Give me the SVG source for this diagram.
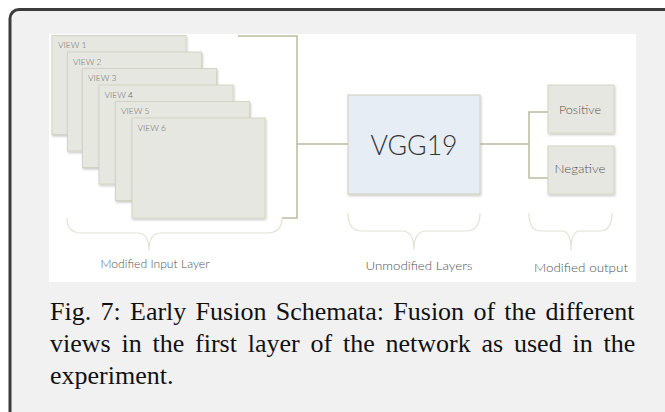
<svg xmlns="http://www.w3.org/2000/svg" width="665" height="412" viewBox="0 0 665 412">
<defs>
<filter id="sh" x="-10%" y="-10%" width="130%" height="130%">
<feDropShadow dx="0.8" dy="1.5" stdDeviation="0.9" flood-color="#000" flood-opacity="0.22"/>
</filter>
<style>
.box{fill:#e7e7e1;stroke:#d4d4c4;stroke-width:1;filter:url(#sh)}
.vgg{fill:#e6edf5;stroke:#cfcfbd;stroke-width:1;filter:url(#sh)}
.vl{font-family:Lato,"Open Sans","Liberation Sans",sans-serif;font-weight:300;font-size:8.5px;fill:#6a6a6a}
.ol{font-family:Lato,"Open Sans","Liberation Sans",sans-serif;font-weight:300;font-size:11px;fill:#555}
.lab{font-family:Lato,"Open Sans","Liberation Sans",sans-serif;font-weight:300;font-size:11.5px;fill:#555;text-anchor:middle}
.con{fill:none;stroke:#babaa0;stroke-width:1.5}
.brace{fill:none;stroke:#e2e2d6;stroke-width:1.2}
.cap{font-family:"Liberation Serif","Times New Roman",serif;font-size:26px;fill:#111}
</style>
</defs>
<rect x="10" y="9.5" width="680" height="430" rx="9" fill="#f1f1f1" stroke="#3c3c3c" stroke-width="3"/>
<rect x="49" y="34" width="587" height="248" fill="#ffffff"/>

<g id="connectors">
<path class="con" d="M238,36 H297 V218 H282"/>
<path class="con" d="M297,144 H348"/>
<path class="con" d="M480,144 H529"/>
<path class="con" d="M548,112 H529 V178 H548"/>
</g>

<g id="view1"><rect class="box" x="52" y="35.5" width="134" height="99"/><text class="vl" x="58" y="48">VIEW 1</text></g>
<g id="view2"><rect class="box" x="67.5" y="52" width="134" height="99"/><text class="vl" x="73" y="64.5">VIEW 2</text></g>
<g id="view3"><rect class="box" x="82.5" y="68.5" width="134" height="99"/><text class="vl" x="88" y="81">VIEW 3</text></g>
<g id="view4"><rect class="box" x="99" y="85" width="134" height="99"/><text class="vl" x="104.5" y="97.5">VIEW 4</text></g>
<g id="view5"><rect class="box" x="115.5" y="101.5" width="134" height="99"/><text class="vl" x="121" y="114">VIEW 5</text></g>
<g id="view6"><rect class="box" x="132" y="118" width="133" height="100"/><text class="vl" x="137.5" y="131">VIEW 6</text></g>

<g id="vgg19"><rect class="vgg" x="348" y="95" width="132" height="99"/><text x="414" y="155" text-anchor="middle" font-family="Lato,'Open Sans','Liberation Sans',sans-serif" font-weight="300" font-size="28" fill="#333" textLength="87" lengthAdjust="spacingAndGlyphs">VGG19</text></g>

<g id="positive"><rect class="box" x="548" y="85" width="66" height="48"/><text class="ol" x="580" y="114" text-anchor="middle" textLength="42" lengthAdjust="spacingAndGlyphs">Positive</text></g>
<g id="negative"><rect class="box" x="548" y="146" width="66" height="48"/><text class="ol" x="580" y="173" text-anchor="middle" textLength="51" lengthAdjust="spacingAndGlyphs">Negative</text></g>

<g id="brace-input">
<path class="brace" d="M67,218 Q67,233 82,233 H137 Q149,233 149,250 Q149,233 161,233 H267 Q282,233 282,218"/>
<text class="lab" x="155" y="268" textLength="109" lengthAdjust="spacingAndGlyphs">Modified Input Layer</text>
</g>
<g id="brace-vgg">
<path class="brace" d="M348,213 Q348,231 362,231 H402 Q414,231 414,250 Q414,231 426,231 H466 Q480,231 480,213"/>
<text class="lab" x="419" y="270" textLength="107" lengthAdjust="spacingAndGlyphs">Unmodified Layers</text>
</g>
<g id="brace-output">
<path class="brace" d="M529,213 Q529,231 541,231 H562 Q571,231 571,250 Q571,231 580,231 H600 Q612,231 612,213"/>
<text class="lab" x="581" y="272" textLength="94" lengthAdjust="spacingAndGlyphs">Modified output</text>
</g>

<g id="caption">
<text class="cap" x="50" y="320" word-spacing="2.8">Fig. 7: Early Fusion Schemata: Fusion of the different</text>
<text class="cap" x="50" y="352" word-spacing="4.3">views in the first layer of the network as used in the</text>
<text class="cap" x="50" y="384">experiment.</text>
</g>
</svg>
